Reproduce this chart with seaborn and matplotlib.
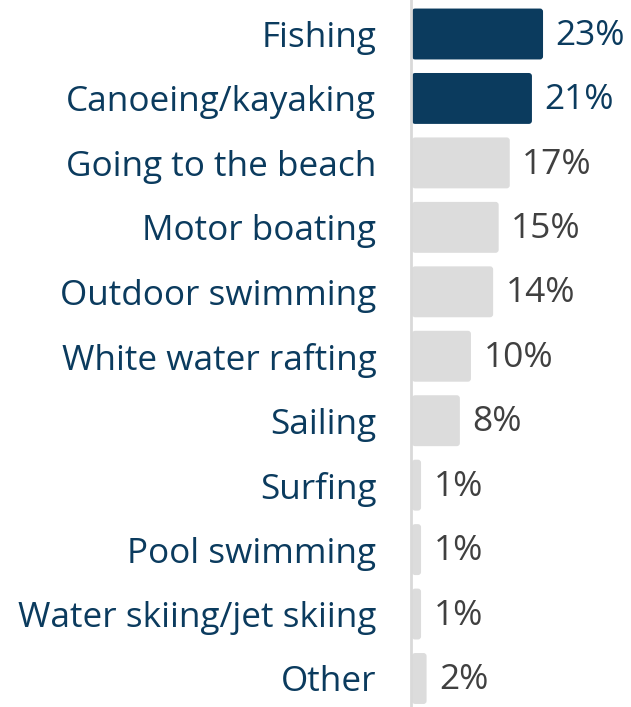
import matplotlib
matplotlib.use("Agg")
import matplotlib.pyplot as plt
import seaborn as sns
import pandas as pd
from matplotlib.patches import FancyBboxPatch

activities = [
    "Fishing",
    "Canoeing/kayaking",
    "Going to the beach",
    "Motor boating",
    "Outdoor swimming",
    "White water rafting",
    "Sailing",
    "Surfing",
    "Pool swimming",
    "Water skiing/jet skiing",
    "Other",
]
shares = [23, 21, 17, 15, 14, 10, 8, 1, 1, 1, 2]
highlighted = ["Fishing", "Canoeing/kayaking"]

NAVY = "#0b3b5e"
LIGHT = "#dcdcdc"
VALUE_GREY = "#404040"

df = pd.DataFrame({"activity": activities, "share": shares})
palette = {a: (NAVY if a in highlighted else LIGHT) for a in activities}

sns.set_theme(style="white")
plt.rcParams["font.family"] = ["Open Sans", "DejaVu Sans"]

W, H, DPI = 631, 707, 100
fig = plt.figure(figsize=(W / DPI, H / DPI), dpi=DPI)
ax_left_px = 411
ax = fig.add_axes([ax_left_px / W, 0, 1 - ax_left_px / W, 1])

sns.barplot(data=df, y="activity", x="share", hue="activity", palette=palette,
            order=activities, hue_order=activities, legend=False,
            width=0.79, saturation=1, ax=ax)

# pixel geometry of the value axis and the category rows
px_per_unit = 5.545
x0_px = 415.5
ax.set_xlim(-(x0_px - ax_left_px) / px_per_unit, (W - x0_px) / px_per_unit)
row_px = 64.45
first_px = 34
ax.set_ylim((H - first_px) / row_px, -first_px / row_px)

# value labels
for cont in ax.containers:
    labels, cols = [], []
    for bar in cont.patches:
        idx = int(round(bar.get_y() + bar.get_height() / 2))
        labels.append(f"{shares[idx]}%")
        cols.append(NAVY if activities[idx] in highlighted else VALUE_GREY)
    texts = ax.bar_label(cont, labels=labels, padding=9, fontsize=25.5,
                         fontweight="medium")
    for t, c in zip(texts, cols):
        t.set_color(c)
        t.xyann = (t.xyann[0], t.xyann[1] - 1.2)

# rounded bars: the rectangles get a small lead-in past the baseline
lead = 3.5 / px_per_unit
for bar in list(ax.patches):
    x, y = bar.get_x(), bar.get_y()
    w, h = bar.get_width(), bar.get_height()
    if w <= 0:
        continue
    fb = FancyBboxPatch((x - lead, y), w + lead, h,
                        boxstyle="round,pad=0,rounding_size=0.55",
                        mutation_aspect=px_per_unit / row_px,
                        facecolor=bar.get_facecolor(), edgecolor="none",
                        linewidth=0)
    ax.add_patch(fb)
    bar.set_visible(False)

for s in ["top", "right", "bottom"]:
    ax.spines[s].set_visible(False)
ax.spines["left"].set_color("#d9d9d9")
ax.spines["left"].set_linewidth(2)
ax.spines["left"].set_zorder(5)
ax.set_xticks([])
ax.set_xlabel("")
ax.set_ylabel("")
ax.tick_params(axis="y", length=0, pad=25, labelsize=25.3, labelcolor=NAVY)

fig.savefig("out.png", dpi=DPI)
